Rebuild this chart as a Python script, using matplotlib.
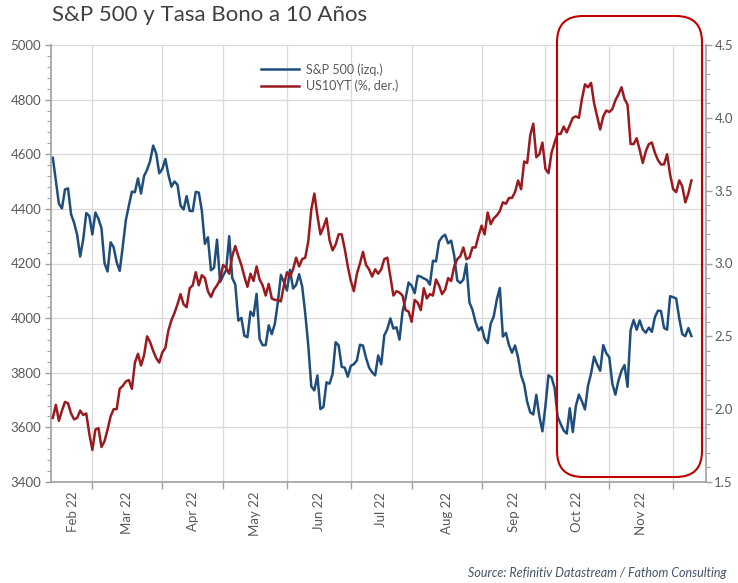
import numpy as np
import pandas as pd
import matplotlib
matplotlib.use('Agg')
import matplotlib.pyplot as plt
from matplotlib.patches import FancyBboxPatch
from matplotlib.transforms import IdentityTransform
from matplotlib.ticker import MultipleLocator, FormatStrFormatter

# NYSE trading days shown in the chart (9 Feb 2022 - 9 Dec 2022)
start_day = '2022-02-09'
end_day = '2022-12-09'
market_holidays = ['2022-02-21', '2022-04-15', '2022-05-30', '2022-06-20',
                   '2022-07-04', '2022-09-05', '2022-11-24']

# S&P 500 close (left axis)
spx = [
    # Feb
    4587.2, 4504.1, 4418.6, 4401.7, 4471.1, 4475.0, 4380.3, 4348.9, 4304.8, 4225.5,
    4288.7, 4384.7, 4373.9,
    # Mar
    4306.3, 4386.5, 4363.5, 4328.9, 4201.1, 4170.7, 4277.9, 4259.5, 4204.3, 4173.1,
    4262.5, 4357.9, 4411.7, 4463.1, 4461.2, 4511.6, 4456.2, 4520.2, 4543.1, 4575.5,
    4631.6, 4602.5, 4530.4,
    # Apr
    4545.9, 4582.6, 4525.1, 4481.2, 4500.2, 4488.3, 4412.5, 4397.5, 4446.6, 4392.6,
    4391.7, 4462.2, 4459.5, 4393.7, 4271.8, 4296.1, 4175.2, 4184.0, 4287.5, 4131.9,
    # May
    4155.4, 4175.5, 4300.2, 4146.9, 4123.3, 3991.2, 4001.1, 3935.2, 3930.1, 4023.9,
    4008.0, 4088.9, 3923.7, 3900.8, 3901.4, 3973.8, 3941.5, 3978.7, 4057.8, 4158.2,
    4132.2,
    # Jun
    4101.2, 4176.8, 4108.5, 4121.4, 4160.7, 4115.8, 4017.8, 3900.9, 3749.6, 3735.5,
    3790.0, 3666.8, 3674.8, 3764.8, 3759.9, 3795.7, 3911.7, 3900.1, 3821.6, 3818.8,
    3785.4,
    # Jul
    3825.3, 3831.4, 3845.1, 3902.6, 3899.4, 3854.4, 3818.8, 3801.8, 3790.4, 3863.2,
    3830.9, 3936.7, 3959.9, 3999.0, 3961.6, 3966.8, 3921.1, 4023.6, 4072.4, 4130.3,
    # Aug
    4118.6, 4091.2, 4155.2, 4151.9, 4145.2, 4140.1, 4122.5, 4210.2, 4207.3, 4280.2,
    4297.1, 4305.2, 4274.0, 4283.7, 4228.5, 4138.0, 4128.7, 4140.8, 4199.1, 4057.7,
    4030.6, 3986.2, 3955.0,
    # Sep
    3966.9, 3924.3, 3908.2, 3979.9, 4006.2, 4067.4, 4110.4, 3932.7, 3946.0, 3901.4,
    3873.3, 3899.9, 3855.9, 3789.9, 3758.0, 3693.2, 3655.0, 3647.3, 3719.0, 3640.5,
    3585.6,
    # Oct
    3678.4, 3790.9, 3783.3, 3744.5, 3639.7, 3612.4, 3588.8, 3577.0, 3669.9, 3583.1,
    3678.0, 3720.0, 3695.2, 3665.8, 3752.8, 3797.3, 3859.1, 3830.6, 3807.3, 3901.1,
    3872.0,
    # Nov
    3856.1, 3759.7, 3719.9, 3770.6, 3806.8, 3828.1, 3748.6, 3956.4, 3992.9, 3957.3,
    3991.7, 3958.8, 3946.6, 3965.3, 3949.9, 4003.6, 4027.3, 4026.1, 3963.9, 3957.6,
    4080.1,
    # Dec
    4076.6, 4071.7, 3998.8, 3941.3, 3933.9, 3963.5, 3934.4,
]

# US 10Y Treasury yield, % (right axis)
us10y = [
    # Feb
    1.94, 2.03, 1.92, 1.99, 2.05, 2.04, 1.97, 1.93, 1.94, 1.99, 1.96, 1.97, 1.83,
    # Mar
    1.72, 1.86, 1.87, 1.74, 1.78, 1.86, 1.95, 2.00, 2.00, 2.14, 2.16, 2.19, 2.20,
    2.14, 2.32, 2.38, 2.30, 2.37, 2.50, 2.46, 2.40, 2.35, 2.32,
    # Apr
    2.39, 2.42, 2.54, 2.61, 2.66, 2.72, 2.79, 2.72, 2.70, 2.83, 2.85, 2.94, 2.85,
    2.92, 2.90, 2.81, 2.77, 2.82, 2.85, 2.89,
    # May
    2.99, 2.97, 2.93, 3.05, 3.12, 3.05, 2.99, 2.91, 2.84, 2.93, 2.88, 2.98, 2.89,
    2.85, 2.78, 2.86, 2.76, 2.75, 2.75, 2.74, 2.85,
    # Jun
    2.94, 2.91, 2.96, 3.04, 2.98, 3.03, 3.04, 3.15, 3.37, 3.48, 3.33, 3.20, 3.25,
    3.31, 3.16, 3.09, 3.13, 3.20, 3.20, 3.10, 2.98,
    # Jul
    2.88, 2.81, 2.93, 3.00, 3.08, 2.99, 2.96, 2.91, 2.96, 2.93, 2.96, 3.03, 3.04,
    2.91, 2.78, 2.81, 2.80, 2.78, 2.68, 2.67,
    # Aug
    2.60, 2.75, 2.73, 2.68, 2.83, 2.76, 2.79, 2.78, 2.89, 2.85, 2.79, 2.82, 2.90,
    2.88, 2.98, 3.03, 3.05, 3.11, 3.03, 3.04, 3.11, 3.11, 3.19,
    # Sep
    3.26, 3.20, 3.35, 3.27, 3.31, 3.33, 3.36, 3.42, 3.41, 3.45, 3.45, 3.49, 3.57,
    3.51, 3.70, 3.69, 3.88, 3.96, 3.73, 3.75, 3.83,
    # Oct
    3.65, 3.62, 3.76, 3.83, 3.89, 3.89, 3.94, 3.90, 3.95, 4.00, 4.01, 4.00, 4.13,
    4.23, 4.21, 4.24, 4.10, 4.01, 3.92, 4.01, 4.05,
    # Nov
    4.04, 4.06, 4.12, 4.16, 4.21, 4.13, 4.09, 3.82, 3.82, 3.86, 3.78, 3.69, 3.77,
    3.82, 3.83, 3.76, 3.71, 3.68, 3.68, 3.75, 3.61,
    # Dec
    3.51, 3.49, 3.57, 3.53, 3.42, 3.48, 3.57,
]

month_labels = ['Feb 22', 'Mar 22', 'Apr 22', 'May 22', 'Jun 22',
                'Jul 22', 'Aug 22', 'Sep 22', 'Oct 22', 'Nov 22']

title = 'S&P 500 y Tasa Bono a 10 Años'
source = 'Source: Refinitiv Datastream / Fathom Consulting'

BLUE = '#1f4e7d'
RED = '#9a1b1f'
GRID = '#d9d9d9'
AXIS = '#a0a0a0'
TEXT = '#595959'

plt.rcParams['font.family'] = ['Lato', 'DejaVu Sans']


def make_chart():
    dates = pd.bdate_range(start_day, end_day, freq='C', holidays=market_holidays)
    x = np.arange(len(dates))

    # category axis: one slot per trading day, ticks on the first day of a month
    month_starts = [i for i in range(1, len(dates)) if dates[i].month != dates[i - 1].month]
    bounds = [0] + month_starts
    label_pos = [(bounds[k] + bounds[k + 1]) / 2 for k in range(len(month_labels))]

    fig = plt.figure(figsize=(7.38, 5.83), dpi=100)
    ax = fig.add_axes([51 / 738, 1 - 482 / 583, 655 / 738, 437 / 583])
    ax2 = ax.twinx()

    l1, = ax.plot(x, spx, color=BLUE, lw=1.8, label='S&P 500 (izq.)')
    l2, = ax2.plot(x, us10y, color=RED, lw=1.8, label='US10YT (%, der.)')

    ax.set_xlim(-0.6, 214.8)
    ax.set_ylim(3400, 5000)
    ax2.set_ylim(1.5, 4.5)

    # x axis
    ax.set_xticks(month_starts)
    ax.set_xticklabels([])
    ax.set_xticks(label_pos, minor=True)
    ax.set_xticklabels(month_labels, minor=True, rotation=90)
    ax.tick_params(axis='x', which='major', length=5, width=1, color=AXIS)
    ax.tick_params(axis='x', which='minor', length=0, pad=7, labelsize=9.5, labelcolor=TEXT)

    # left axis
    ax.yaxis.set_major_locator(MultipleLocator(200))
    ax.yaxis.set_minor_locator(MultipleLocator(40))
    ax.tick_params(axis='y', which='major', length=4, width=1, color=AXIS,
                   labelsize=9.5, labelcolor=TEXT, pad=3)
    ax.tick_params(axis='y', which='minor', length=3, width=0.8, color=AXIS)

    # right axis
    ax2.yaxis.set_major_locator(MultipleLocator(0.5))
    ax2.yaxis.set_minor_locator(MultipleLocator(0.1))
    ax2.yaxis.set_major_formatter(FormatStrFormatter('%.1f'))
    ax2.tick_params(axis='y', which='major', length=4, width=1, color=AXIS,
                    labelsize=9.5, labelcolor=TEXT, pad=2)
    ax2.tick_params(axis='y', which='minor', length=3, width=0.8, color=AXIS)

    ax.grid(True, which='major', color=GRID, lw=0.9)

    for s in ['top', 'right']:
        ax.spines[s].set_visible(False)
    for s in ['top', 'left', 'bottom']:
        ax2.spines[s].set_visible(False)
    for sp in [ax.spines['left'], ax.spines['bottom'], ax2.spines['right']]:
        sp.set_color(AXIS)
        sp.set_linewidth(1.2)

    fig.legend([l1, l2], [l1.get_label(), l2.get_label()], loc='upper left',
               bbox_to_anchor=(250 / 738, 1 - 52 / 583), frameon=False,
               fontsize=9, handlelength=3.0, handletextpad=0.55, labelspacing=0.3,
               labelcolor=TEXT)

    fig.text(52 / 738, 1 - 5 / 583, title, ha='left', va='top', fontsize=16, color='#404040')
    fig.text(726 / 738, 1 - 573 / 583, source, ha='right', va='center', fontsize=9,
             style='italic', color='#44546a')

    # highlight box around the last months (drawn in pixels)
    box = FancyBboxPatch((557, 583 - 477), 145, 461,
                         boxstyle='round,pad=0,rounding_size=26',
                         transform=IdentityTransform(), fill=False,
                         edgecolor='#c00000', lw=1.5, zorder=10)
    fig.patches.append(box)

    fig.savefig('out.png', dpi=100)
    plt.close()


if __name__ == '__main__':
    make_chart()
